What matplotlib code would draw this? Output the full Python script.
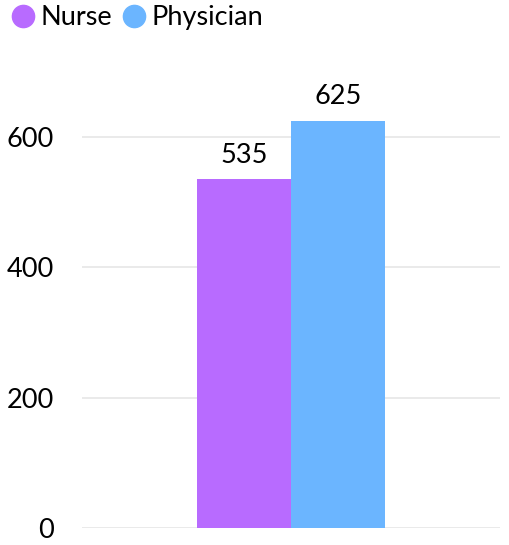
import matplotlib.pyplot as plt
from matplotlib.lines import Line2D

plt.rcParams['font.family'] = ['Lato', 'DejaVu Sans']

series = ["Nurse", "Physician"]
values = [535, 625]
colors = ["#b86bff", "#6bb5ff"]
yticks = [0, 200, 400, 600]

fig = plt.figure(figsize=(5.09, 5.45), dpi=100)
ax = fig.add_axes([82 / 509, 17 / 545, 418 / 509, 456 / 545])

width = 0.225
offsets = [-width / 2, width / 2]
for name, val, col, off in zip(series, values, colors, offsets):
    ax.bar(off, val, width=width, color=col, zorder=2)
    ax.text(off, val + 18, str(val), ha='center', va='bottom', fontsize=19.5)

ax.set_xlim(-0.5, 0.5)
ax.set_ylim(0, 700)
ax.set_yticks(yticks)
ax.set_xticks([])
ax.tick_params(axis='y', length=0, labelsize=19.5, pad=20)
ax.grid(axis='y', color='#e6e6e6', linewidth=1.2, zorder=0)
for s in ax.spines.values():
    s.set_visible(False)

handles = [Line2D([], [], marker='o', linestyle='', markersize=16,
                  markerfacecolor=c, markeredgecolor=c) for c in colors]
fig.legend(handles, series, loc='upper left', bbox_to_anchor=(-0.03, 1.035),
           frameon=False, fontsize=19.5, handletextpad=0.15, columnspacing=0.3,
           ncol=2, handlelength=1.0)

fig.savefig("out.png", dpi=100)
